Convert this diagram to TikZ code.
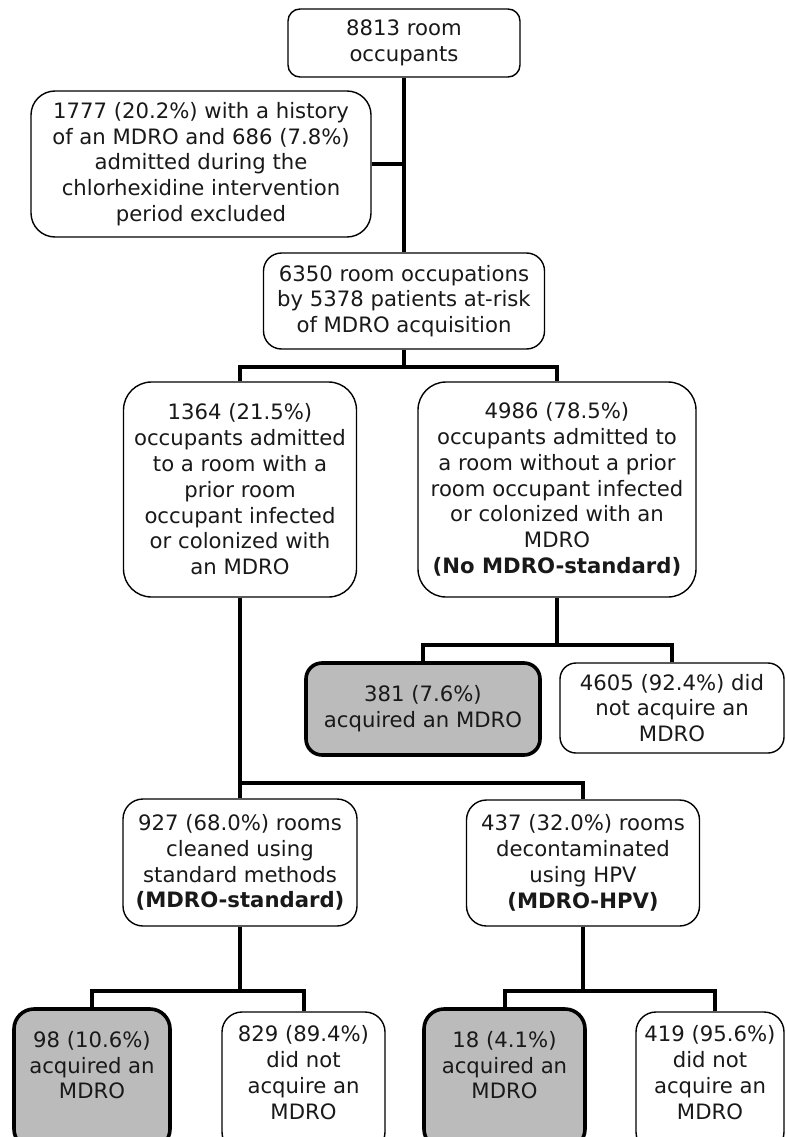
\documentclass[tikz,border=0pt]{standalone}
\usepackage{fontspec}
\setmainfont{DejaVu Sans}
\usetikzlibrary{calc}
\definecolor{boxgray}{RGB}{187,187,187}
\begin{document}
\begin{tikzpicture}[x=1pt,y=-1pt,
  box/.style={draw=black, line width=1.4pt, fill=white, align=center, inner sep=0pt,
    font=\fontsize{21.2}{25.8}\selectfont, text=black!90},
  graybox/.style={box, fill=boxgray, line width=3.6pt},
  conn/.style={draw=black, line width=4pt}]
\useasboundingbox (0,0) rectangle (786,1137);
\clip (0,0) rectangle (786,1137);
\fill[white] (0,0) rectangle (786,1137);

% nodes
\node[box, rounded corners=12pt, minimum width=232pt, minimum height=68pt] (A) at (404,43)
  {8813 room\\occupants};
\node[box, rounded corners=24pt, minimum width=340pt, minimum height=146pt] (B) at (201,164)
  {1777 (20.2\%) with a history\\of an MDRO and 686 (7.8\%)\\admitted during the\\chlorhexidine intervention\\period excluded};
\node[box, rounded corners=18pt, minimum width=281pt, minimum height=96pt] (C) at (404,301)
  {6350 room occupations\\by 5378 patients at-risk\\of MDRO acquisition};
\node[box, rounded corners=28pt, minimum width=233pt, minimum height=215pt] (D) at (240,489.5)
  {1364 (21.5\%)\\occupants admitted\\to a room with a\\prior room\\occupant infected\\or colonized with\\an MDRO};
\node[box, rounded corners=28pt, minimum width=278pt, minimum height=215pt] (E) at (557,489.5)
  {4986 (78.5\%)\\occupants admitted to\\a room without a prior\\room occupant infected\\or colonized with an\\MDRO\\\textbf{(No MDRO-standard)}};
\node[graybox, rounded corners=16pt, minimum width=234pt, minimum height=92pt] (F) at (423,709)
  {381 (7.6\%)\\acquired an MDRO};
\node[box, rounded corners=16pt, minimum width=224pt, minimum height=90pt] (G) at (672,708)
  {4605 (92.4\%) did\\not acquire an\\MDRO};
\node[box, rounded corners=20pt, minimum width=234pt, minimum height=127pt] (H) at (240,862.5)
  {927 (68.0\%) rooms\\cleaned using\\standard methods\\\textbf{(MDRO-standard)}};
\node[box, rounded corners=20pt, minimum width=233pt, minimum height=126pt] (I) at (583,863)
  {437 (32.0\%) rooms\\decontaminated\\using HPV\\\textbf{(MDRO-HPV)}};
\node[graybox, rounded corners=20pt, minimum width=156pt, minimum height=140pt, text depth=28pt] (J) at (92,1079)
  {98 (10.6\%)\\acquired an\\MDRO};
\node[box, rounded corners=20pt, minimum width=163pt, minimum height=140pt, text depth=19pt] (K) at (303.5,1082)
  {829 (89.4\%)\\did not\\acquire an\\MDRO};
\node[graybox, rounded corners=20pt, minimum width=161pt, minimum height=140pt, text depth=28pt] (L) at (504.5,1079)
  {18 (4.1\%)\\acquired an\\MDRO};
\node[box, rounded corners=20pt, minimum width=148pt, minimum height=140pt, text depth=19pt] (M) at (710,1082)
  {419 (95.6\%)\\did not\\acquire an\\MDRO};

% connectors
\draw[conn] (A.south) -- (C.north);
\draw[conn] (B.east) -- (B.east -| A.south);
\coordinate (c1) at ($(C.south)+(0,17)$);
\draw[conn] (C.south) -- (c1);
\draw[conn] (D.north) |- (c1) -| (E.north);
\coordinate (e1) at ($(E.south)+(0,47)$);
\draw[conn] (E.south) -- (e1);
\draw[conn] (F.north) |- (e1) -| (G.north);
\coordinate (d1) at ($(D.south)+(0,185)$);
\draw[conn] (D.south) -- (H.north);
\draw[conn] (d1) -| (I.north);
\coordinate (h1) at ($(H.south)+(0,64)$);
\draw[conn] (H.south) -- (h1);
\draw[conn] (J.north) |- (h1) -| (K.north);
\coordinate (i1) at ($(I.south)+(0,64)$);
\coordinate (m1) at ($(M.north)+(5,0)$);
\draw[conn] (I.south) -- (i1);
\draw[conn] (L.north) |- (i1) -| (m1);
\end{tikzpicture}
\end{document}
